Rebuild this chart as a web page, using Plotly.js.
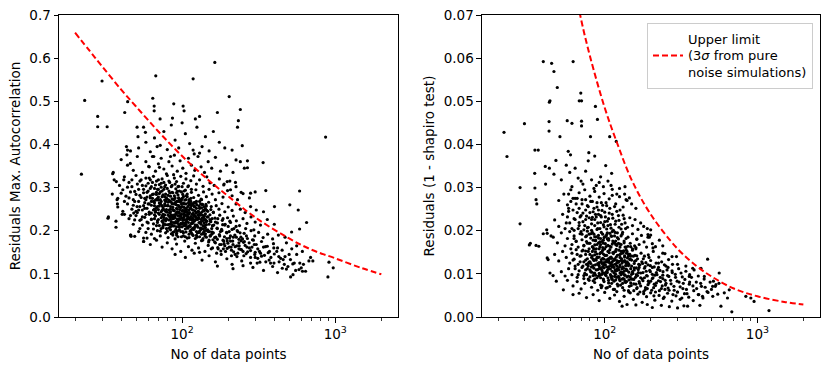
<!DOCTYPE html>
<html>
<head>
<meta charset="utf-8">
<script src="https://cdn.plot.ly/plotly-3.0.1.min.js"></script>
<style>
  html, body { margin: 0; padding: 0; background: #ffffff; }
  #graph { width: 830px; height: 371px; }
</style>
</head>
<body>
<div id="graph"></div>
<script>
// ---- Left panel: residuals max. autocorrelation vs no of data points ----
// [n, value] pairs
let leftOutliers = [
  [22,0.331],[23.1,0.502],[30,0.547],[28.1,0.465],[28.1,0.441],[32.4,0.441],[42.2,0.474],[44.1,0.499],
  [67.3,0.559],[64.3,0.507],[65.7,0.489],[65.7,0.478],[71.8,0.459],[86.5,0.461],[88.2,0.494],[101.5,0.489],
  [103,0.478],[118,0.552],[163.5,0.590],[170,0.474],[122,0.459],[130,0.465],[203,0.511],[240,0.481],
  [233,0.455],[230,0.44],[247,0.397],[212,0.387],[225,0.364],[267,0.362],[267,0.346],[338,0.358],
  [865,0.417],[352,0.293],[585,0.292],[401,0.256],[505,0.260],[573,0.248],[650,0.219],[585,0.204],
  [519,0.197],[910,0.127],[970,0.114],[896,0.093],[511,0.093],[714,0.130],[673,0.130],[528,0.123],
  [587,0.125],[611,0.106],[551,0.108],[491,0.117],[457,0.133],[428,0.140],[397,0.160],[451,0.113],
  [360,0.164],[325,0.148],[378,0.125],[309,0.125],[288,0.179],[294,0.202],[280,0.287],[243,0.289],
  [207,0.295],[197,0.314],[187,0.306],[223,0.312],
  [32.8,0.229],[37,0.208],[35.2,0.332],[35.5,0.335],[37.2,0.314],[37.6,0.272],[37.8,0.262],[40.6,0.238],
  [40,0.287],[41.6,0.318],[43.3,0.395],[43.6,0.376],[44,0.387],[45.9,0.356],[46.2,0.19],[46.4,0.187],
  [48.3,0.241],[49,0.225],[50.8,0.256],[51.5,0.418],[50.8,0.44],[57.6,0.428],[56.1,0.175],[59,0.183],
  [60.5,0.349],[65.3,0.372],[68.7,0.395],[71.1,0.347]
];
let leftUpper = [
  [46,0.385],[52,0.392],[58,0.405],[62,0.383],[66,0.415],[72,0.398],[76,0.43],[80,0.388],[85,0.445],
  [90,0.41],[95,0.392],[105,0.425],[112,0.402],[118,0.387],[125,0.44],[135,0.395],[142,0.418],[150,0.385],
  [160,0.43],[175,0.405],[190,0.392],[56,0.44],[84,0.372],[100,0.45],[130,0.38],
  [40,0.365],[44,0.352],[48,0.34],[51,0.372],[55,0.335],[58,0.36],[61,0.348],[64,0.372],[67,0.338],
  [70,0.355],[73,0.368],[76,0.343],[79,0.332],[82,0.36],[86,0.35],[89,0.375],[93,0.338],[97,0.362],
  [101,0.345],[106,0.333],[110,0.368],[115,0.352],[121,0.34],[127,0.372],[133,0.348],[140,0.335],
  [148,0.36],[156,0.345],[165,0.37],[178,0.338],[195,0.352],[215,0.335],[240,0.36],[255,0.345],[120,0.378],
  [36,0.318],[39,0.305],[42,0.325],[45,0.312],[47,0.302],[50,0.328],[53,0.315],[55,0.305],[58,0.322],
  [60,0.31],[63,0.302],[65,0.326],[68,0.315],[71,0.307],[74,0.32],[77,0.302],[80,0.328],[83,0.312],
  [86,0.305],[89,0.322],[92,0.314],[95,0.303],[98,0.326],[102,0.31],[106,0.32],[110,0.304],[114,0.316],
  [119,0.327],[124,0.308],[130,0.318],[137,0.303],[145,0.325],[152,0.311],[162,0.305],[175,0.32],
  [188,0.308],[205,0.315],[225,0.302],[62,0.318],[88,0.33],[73,0.31]
];
let leftCore = [
  [35,0.285],[38,0.275],[41,0.295],[43,0.28],[46,0.29],[48,0.272],[50,0.284],[52,0.296],[54,0.277],
  [56,0.288],[58,0.272],[60,0.292],[62,0.281],[64,0.275],[66,0.298],[68,0.284],[70,0.271],[72,0.29],
  [74,0.279],[76,0.296],[78,0.285],[80,0.273],[82,0.292],[84,0.28],[87,0.288],[89,0.274],[91,0.297],
  [94,0.283],[96,0.271],[99,0.29],[102,0.279],[105,0.294],[108,0.285],[111,0.272],[115,0.289],[119,0.277],
  [123,0.295],[128,0.282],[133,0.273],[138,0.29],[144,0.279],[150,0.296],[157,0.285],[165,0.272],
  [174,0.288],[185,0.278],[198,0.293],[212,0.281],[230,0.272],[250,0.286],[275,0.276],[300,0.29],
  [70,0.278],[95,0.276],
  [38,0.255],[41,0.245],[44,0.262],[47,0.25],[49,0.268],[51,0.242],[53,0.256],[55,0.248],[57,0.265],
  [59,0.252],[61,0.243],[63,0.259],[65,0.268],[67,0.247],[69,0.256],[71,0.264],[73,0.244],[75,0.253],
  [77,0.262],[79,0.249],[81,0.258],[83,0.241],[85,0.266],[87,0.254],[89,0.246],[91,0.261],[93,0.25],
  [95,0.243],[97,0.267],[99,0.255],[101,0.247],[103,0.262],[106,0.252],[108,0.244],[111,0.259],
  [114,0.268],[117,0.248],[120,0.256],[123,0.264],[127,0.243],[131,0.253],[135,0.261],[139,0.246],
  [144,0.257],[149,0.266],[154,0.249],[160,0.242],[167,0.258],[174,0.25],[182,0.263],[190,0.244],
  [200,0.255],[212,0.247],[225,0.262],[240,0.25],[258,0.242],[280,0.256],[305,0.248],[340,0.244],
  [78,0.27],[92,0.268],[118,0.24],[66,0.25],[84,0.25],
  [33,0.232],[37,0.222],[42,0.238],[45,0.228],[48,0.215],[50,0.235],[53,0.224],[55,0.213],[57,0.231],
  [59,0.22],[61,0.238],[63,0.227],[65,0.216],[67,0.234],[69,0.223],[71,0.212],[73,0.23],[75,0.219],
  [77,0.237],[79,0.226],[81,0.214],[83,0.233],[85,0.221],[87,0.211],[89,0.229],[91,0.239],[93,0.218],
  [95,0.227],[97,0.235],[99,0.215],[101,0.224],[103,0.232],[105,0.212],[107,0.221],[110,0.238],
  [113,0.228],[116,0.217],[119,0.234],[122,0.225],[125,0.213],[128,0.231],[132,0.22],[136,0.236],
  [140,0.226],[144,0.214],[148,0.232],[153,0.222],[158,0.211],[164,0.229],[170,0.218],[176,0.236],
  [183,0.224],[190,0.213],[198,0.23],[207,0.219],[216,0.234],[226,0.223],[237,0.212],[250,0.228],
  [265,0.217],[282,0.232],[300,0.22],[325,0.213],[360,0.226],[400,0.215],[76,0.215],[88,0.236],
  [104,0.218],[130,0.238],[96,0.211]
];
let leftDense = [
  [61,0.262],[63,0.241],[64,0.284],[66,0.228],[67,0.271],[68,0.253],[69,0.219],[70,0.296],[71,0.238],
  [72,0.262],[73,0.205],[74,0.247],[75,0.283],[76,0.231],[77,0.258],[78,0.214],[79,0.276],[80,0.243],
  [80,0.199],[81,0.266],[82,0.225],[83,0.288],[84,0.209],[84,0.256],[85,0.237],[86,0.274],[87,0.196],
  [87,0.248],[88,0.219],[89,0.281],[90,0.232],[90,0.265],[91,0.203],[92,0.252],[93,0.227],[93,0.291],
  [94,0.186],[95,0.258],[95,0.214],[96,0.241],[97,0.272],[98,0.198],[98,0.233],[99,0.262],[100,0.209],
  [100,0.245],[101,0.284],[102,0.188],[102,0.226],[103,0.254],[104,0.214],[104,0.271],[105,0.236],
  [106,0.197],[107,0.249],[107,0.222],[108,0.279],[109,0.206],[110,0.24],[110,0.264],[111,0.184],
  [112,0.228],[113,0.252],[113,0.199],[114,0.275],[115,0.217],[116,0.238],[117,0.191],[118,0.261],
  [119,0.225],[120,0.205],[121,0.246],[122,0.182],[123,0.231],[124,0.268],[125,0.212],[126,0.244],
  [127,0.196],[128,0.228],[129,0.257],[130,0.186],[131,0.219],[132,0.24],[133,0.203],[134,0.272],
  [135,0.229],[136,0.178],[137,0.211],[138,0.248],[139,0.193],[140,0.234],[142,0.207],[143,0.261],
  [144,0.185],[145,0.222],[147,0.245],[148,0.198],[149,0.174],[150,0.215],[152,0.237],[153,0.188],
  [155,0.256],[156,0.205],[157,0.228],[159,0.179],[160,0.243],
  [62,0.276],[65,0.248],[68,0.289],[72,0.272],[75,0.238],[78,0.268],[82,0.248],[85,0.218],[88,0.262],
  [91,0.221],[94,0.268],[97,0.226],[100,0.275],[103,0.238],[106,0.262],[109,0.232],[112,0.212],
  [115,0.258],[118,0.206],[121,0.266],[124,0.198],[127,0.237],[130,0.252],[133,0.226],[136,0.261],
  [139,0.218],[142,0.251],[146,0.232],[151,0.198],[154,0.221],[158,0.212],
  [86,0.232],[92,0.209],[96,0.228],[101,0.218],[105,0.248],[108,0.228],[111,0.248],[116,0.224],
  [120,0.236],[125,0.228],[99,0.238],[93,0.243],[89,0.198],[83,0.233],[79,0.228],[74,0.222],[70,0.249],
  [66,0.237],[63,0.226],[58,0.238],[56,0.258],[54,0.226],[52,0.248],[57,0.275],[59,0.289]
];
let leftDense2 = [
  [65,0.204],[66,0.265],[67,0.243],[68,0.212],[69,0.275],[70,0.226],[71,0.257],[72,0.199],[73,0.268],
  [74,0.234],[75,0.211],[76,0.249],[77,0.279],[78,0.223],[79,0.205],[80,0.258],[81,0.236],[82,0.271],
  [83,0.215],[84,0.244],[85,0.193],[86,0.262],[87,0.228],[88,0.247],[89,0.211],[90,0.276],[91,0.238],
  [92,0.194],[93,0.259],[94,0.222],[95,0.275],[96,0.202],[97,0.249],[98,0.217],[99,0.271],[100,0.229],
  [101,0.198],[102,0.264],[103,0.212],[104,0.243],[105,0.186],[106,0.272],[107,0.235],[108,0.208],
  [109,0.256],[110,0.219],[111,0.268],[112,0.242],[113,0.21],[114,0.233],[115,0.195],[116,0.263],
  [117,0.229],[118,0.248],[119,0.203],[120,0.222],[121,0.256],[122,0.213],[123,0.241],[124,0.189],
  [125,0.26],[126,0.226],[127,0.208],[128,0.245],[129,0.219],[130,0.199],[131,0.236],[132,0.262],
  [133,0.215],[134,0.192],[135,0.244],[136,0.223],[137,0.205],[138,0.231],[139,0.256],[140,0.212],
  [141,0.188],[142,0.239],[143,0.221],[144,0.201],[145,0.247],
  [70,0.241],[74,0.258],[78,0.245],[82,0.206],[86,0.213],[90,0.218],[94,0.235],[98,0.254],[102,0.238],
  [106,0.215],[110,0.229],[114,0.252],[118,0.218],[122,0.234],[126,0.195],[130,0.268],[134,0.253],
  [138,0.196],[142,0.226],[76,0.226],[84,0.227],[92,0.242],[100,0.256],[108,0.242],[116,0.204],
  [124,0.252],[132,0.206],[140,0.248],[88,0.234],[96,0.255],[104,0.226],[112,0.226],[120,0.265],
  [152,0.226],[156,0.192],[161,0.213],[166,0.185],[171,0.228],[176,0.168],[181,0.203],[186,0.158],
  [191,0.215],[197,0.176],[203,0.198],[209,0.162],[216,0.185],[222,0.145],[229,0.2],[236,0.165],
  [243,0.177],[250,0.152]
];
let leftExtra = [
  [42,0.268],[44,0.301],[45,0.276],[47,0.318],[48,0.259],[49,0.291],[51,0.308],[52,0.268],[53,0.282],
  [54,0.318],[56,0.296],[57,0.252],[58,0.304],[59,0.278],[60,0.262],[61,0.322],[62,0.298],[63,0.268],
  [64,0.312],[65,0.285],[66,0.258],[67,0.306],[68,0.272],[69,0.296],[70,0.318],[71,0.286],[72,0.263],
  [73,0.301],[74,0.292],[76,0.312],[77,0.271],[78,0.306],[80,0.298],[81,0.282],[82,0.315],[84,0.268],
  [85,0.302],[86,0.289],[88,0.272],[90,0.308],[92,0.288],[94,0.302],[96,0.292],[98,0.268],[100,0.302],
  [103,0.292],[106,0.281],[109,0.302],[112,0.262],[115,0.296],[50,0.245],[55,0.232],[60,0.218],
  [46,0.235],[53,0.205],[58,0.196]
];
let leftLower = [
  [46,0.19],[49,0.187],[52,0.198],[56,0.183],[60,0.205],[63,0.192],[66,0.182],[69,0.2],[72,0.188],
  [75,0.207],[78,0.195],[81,0.184],[84,0.202],[87,0.19],[90,0.181],[93,0.199],[96,0.208],[99,0.186],
  [102,0.195],[105,0.204],[108,0.183],[111,0.192],[114,0.201],[118,0.189],[121,0.209],[125,0.185],
  [129,0.196],[133,0.205],[137,0.182],[142,0.193],[147,0.202],[152,0.188],[157,0.197],[163,0.184],
  [169,0.206],[175,0.191],[182,0.2],[189,0.186],[196,0.195],[204,0.183],[212,0.203],[221,0.19],
  [231,0.198],[242,0.185],[254,0.194],[267,0.182],[282,0.2],[298,0.188],[316,0.196],[338,0.184],
  [362,0.192],[390,0.181],[425,0.19],[470,0.185],[110,0.21],[140,0.2],[170,0.18],[200,0.21],[92,0.19],
  [260,0.205],
  [56,0.175],[62,0.168],[68,0.178],[74,0.162],[80,0.172],[86,0.158],[92,0.169],[98,0.152],[104,0.176],
  [110,0.163],[116,0.155],[122,0.171],[128,0.16],[134,0.177],[141,0.152],[148,0.166],[155,0.158],
  [163,0.174],[171,0.161],[179,0.153],[188,0.17],[197,0.159],[207,0.176],[217,0.151],[228,0.165],
  [240,0.157],[252,0.173],[265,0.162],[280,0.154],[296,0.168],[312,0.158],[330,0.175],[350,0.163],
  [372,0.152],[395,0.17],[420,0.16],[450,0.155],[480,0.172],[520,0.158],[560,0.165],[610,0.152],
  [130,0.15],[185,0.178],[235,0.18],[300,0.15],
  [90,0.145],[105,0.138],[120,0.148],[135,0.132],[150,0.142],[165,0.128],[180,0.145],[196,0.135],
  [212,0.122],[228,0.14],[245,0.13],[262,0.147],[280,0.125],[300,0.138],[322,0.127],[345,0.143],
  [370,0.132],[400,0.146],[430,0.128],[470,0.14],[510,0.133],[560,0.145],[620,0.122],[690,0.138],
  [170,0.118],[215,0.112],[250,0.119],[290,0.115],[340,0.108],[390,0.117],[420,0.103],[480,0.111],
  [530,0.098],[600,0.114],[640,0.106],[580,0.11]
];
let leftTail = [
  [160,0.195],[165,0.172],[170,0.205],[172,0.158],[176,0.188],[180,0.168],[184,0.214],[187,0.176],
  [192,0.152],[195,0.196],[199,0.171],[203,0.162],[207,0.188],[210,0.142],[214,0.176],[218,0.205],
  [222,0.163],[226,0.185],[231,0.148],[235,0.172],[239,0.195],[244,0.156],[248,0.181],[253,0.142],
  [258,0.166],[263,0.188],[268,0.151],[274,0.172],[280,0.138],[286,0.162],[292,0.178],[298,0.145],
  [305,0.168],[312,0.136],[320,0.152],[330,0.141],[340,0.162],[352,0.128],[365,0.149],[380,0.138],
  [398,0.125],[415,0.152],[440,0.136],[465,0.122],[500,0.145],[540,0.125],[185,0.228],[205,0.222],
  [225,0.21],[165,0.22],[178,0.198],[196,0.182],[215,0.168],[235,0.158],[255,0.175],[275,0.16],
  [150,0.178],[158,0.16],[168,0.148],[190,0.165],[210,0.155]
];

// ---- Right panel: residuals (1 - shapiro test) vs no of data points ----
let rightOutliers = [
  [21.9,0.0428],[22.9,0.0372],[29.8,0.0448],[27.9,0.030],[27.9,0.0216],[32.1,0.0167],[32.6,0.0171],
  [34.9,0.0387],[36.7,0.0387],[34.8,0.0333],[34.9,0.0299],[35.5,0.0272],[35.9,0.0262],[39.6,0.0592],
  [44.9,0.0588],[46.5,0.0569],[48.9,0.0532],[43.4,0.0498],[43.8,0.0501],[43.2,0.0453],[43.2,0.0431],
  [50.9,0.0418],[40.8,0.0349],[43.4,0.0345],[41,0.0308],[46.5,0.0331],[47.9,0.0363],[62.1,0.0592],
  [69.7,0.0519],[68.1,0.0501],[70.5,0.0501],[56.8,0.0455],[61,0.0449],[70.5,0.0454],[70.5,0.0443],
  [86.9,0.0488],[89.6,0.0458],[80.7,0.0418],[107.8,0.0418],[119,0.0407],[57.7,0.0384],[59.7,0.0376],
  [78.7,0.0381],[86,0.0373],[101.5,0.0351],[111,0.0333],[135.8,0.0302],[138,0.0272],[41.7,0.0202],
  [42,0.0194],[44.5,0.0188],[42,0.0137],[42.6,0.0133],[43.8,0.0102],[45.9,0.0096],[48.2,0.0083],
  [53.6,0.0063],[62,0.0052],[39.6,0.0193],[35.5,0.0166],[37,0.0164],
  [472,0.0134],[562,0.0102],[577,0.0025],[680,0.0012],[1191,0.0015],[951,0.0036],[906,0.0044],
  [840,0.0048],[654,0.0063],[637,0.0044],[607,0.0056],[509,0.0071],[515,0.0083],[449,0.0094],
  [427,0.0113],[377,0.0113],[358,0.0094],[349,0.0025],[437,0.0048],[535,0.0075],[560,0.0078],
  [276,0.014],[240,0.0148],[207,0.016],[192,0.0191],[192,0.0185],[162.5,0.0181],[160,0.0161],
  [52,0.0318],[56,0.0352],[59,0.0335],[61,0.0302],[64,0.0345],[67,0.0322],[72,0.0308],[75,0.0338],
  [78,0.0362],[82,0.0318],[88,0.0305],[94,0.0325],[98,0.0302],[105,0.0315],[58,0.0285],[64,0.0275],
  [70,0.0315],[92,0.0312],[125,0.0298],[135,0.0285],[145,0.0276],[110,0.0305]
];
let rightUpper = [
  [50,0.027],[54,0.0285],[57,0.026],[60,0.0295],[62,0.0275],[65,0.0262],[68,0.0288],[71,0.0272],
  [74,0.0295],[77,0.0258],[80,0.028],[83,0.0268],[86,0.0291],[89,0.0255],[92,0.0278],[95,0.0265],
  [99,0.0286],[103,0.0258],[107,0.0274],[112,0.0282],[118,0.0262],[125,0.0279],[132,0.0255],[140,0.027],
  [150,0.0262],[160,0.0252],[58,0.0252],[85,0.0298],[112,0.0296],[120,0.0285],
  [47,0.0225],[50,0.021],[53,0.0238],[56,0.0218],[58,0.0245],[61,0.0205],[63,0.0228],[66,0.0242],
  [68,0.0212],[70,0.0235],[72,0.0221],[75,0.0248],[77,0.0207],[79,0.023],[82,0.0216],[84,0.0244],
  [86,0.0226],[89,0.0203],[91,0.0238],[94,0.0219],[96,0.0247],[99,0.0209],[101,0.0232],[104,0.0222],
  [107,0.0241],[110,0.0206],[113,0.0229],[117,0.0215],[120,0.0245],[124,0.0224],[128,0.0204],
  [132,0.0236],[136,0.0218],[141,0.0208],[146,0.023],[152,0.0212],[158,0.0226],[165,0.0203],
  [172,0.0218],[180,0.021],[190,0.0205],[200,0.0202],[88,0.0232],[105,0.0212],[73,0.0202]
];
let rightExtra = [
  [55,0.0205],[57,0.0232],[59,0.0218],[60,0.0268],[62,0.0248],[63,0.0182],[64,0.0226],[66,0.0275],
  [67,0.0205],[68,0.0252],[69,0.0232],[70,0.0198],[71,0.0262],[72,0.0241],[74,0.0212],[75,0.0272],
  [76,0.0234],[78,0.0256],[79,0.0192],[80,0.0242],[81,0.0268],[82,0.0201],[83,0.0231],[85,0.0252],
  [86,0.0186],[87,0.0238],[89,0.0265],[90,0.0218],[91,0.0248],[93,0.0205],[95,0.0232],[97,0.0259],
  [98,0.0214],[100,0.0243],[102,0.0265],[104,0.0195],[106,0.0228],[108,0.0252],[110,0.0188],
  [112,0.0238],[114,0.0201],[116,0.0256],[118,0.0222],[121,0.0195],[123,0.0235],[126,0.0248],
  [129,0.0215],[131,0.0196],[134,0.0228],[137,0.0205]
];
let rightCore = [
  [46,0.0185],[49,0.0172],[52,0.0195],[55,0.0165],[57,0.0182],[59,0.0198],[61,0.0168],[63,0.0188],
  [65,0.0175],[67,0.0162],[69,0.0193],[71,0.0179],[73,0.0166],[75,0.0186],[77,0.0199],[79,0.0171],
  [81,0.0183],[83,0.0163],[85,0.0192],[87,0.0177],[89,0.0168],[91,0.0189],[93,0.0174],[95,0.0196],
  [97,0.0161],[99,0.0184],[101,0.017],[103,0.0191],[106,0.0178],[108,0.0164],[111,0.0187],[114,0.0173],
  [117,0.0196],[120,0.0166],[123,0.0181],[126,0.0169],[130,0.0192],[134,0.0176],[138,0.0162],
  [142,0.0185],[147,0.0171],[152,0.0193],[157,0.0165],[162,0.018],[168,0.0168],[174,0.0189],
  [181,0.0174],[188,0.0162],[196,0.0185],[205,0.017],[215,0.0163],[228,0.0178],[200,0.019],
  [240,0.0165],[76,0.0175],[98,0.0178],[118,0.0176],[84,0.0161],
  [47,0.0145],[50,0.013],[53,0.0152],[56,0.0138],[59,0.0125],[61,0.0148],[63,0.0134],[65,0.0156],
  [67,0.0122],[69,0.0141],[71,0.0153],[73,0.0128],[75,0.0145],[77,0.0135],[79,0.0158],[81,0.0124],
  [83,0.0142],[85,0.0131],[87,0.0151],[89,0.0138],[91,0.0121],[93,0.0147],[95,0.0133],[97,0.0155],
  [99,0.0126],[101,0.0143],[103,0.0132],[105,0.0152],[108,0.0137],[110,0.0123],[113,0.0149],
  [116,0.0135],[119,0.0157],[122,0.0127],[125,0.0144],[128,0.0131],[132,0.0153],[135,0.0139],
  [139,0.0124],[143,0.0146],[147,0.0134],[152,0.0155],[157,0.0129],[162,0.0142],[167,0.0122],
  [173,0.0148],[179,0.0135],[186,0.0126],[193,0.0144],[200,0.0131],[208,0.0152],[217,0.0125],
  [226,0.0139],[236,0.0128],[248,0.0147],[262,0.0133],[278,0.0122],[295,0.014],[92,0.0158],
  [112,0.0128],[140,0.0152],[182,0.0141]
];
let rightDense = [
  [70,0.0142],[72,0.0118],[73,0.0165],[74,0.0101],[75,0.0132],[76,0.0188],[77,0.0112],[78,0.0152],
  [79,0.0127],[80,0.0171],[81,0.0105],[82,0.0138],[83,0.0196],[84,0.0119],[85,0.0157],[86,0.0088],
  [87,0.0133],[87,0.0178],[88,0.0109],[89,0.0146],[90,0.0124],[90,0.0205],[91,0.0095],[92,0.0139],
  [93,0.0163],[93,0.0114],[94,0.0182],[95,0.0128],[96,0.0099],[96,0.0151],[97,0.0117],[98,0.0171],
  [99,0.0134],[99,0.0082],[100,0.0158],[101,0.0121],[102,0.0187],[102,0.0104],[103,0.0143],[104,0.0128],
  [105,0.0166],[105,0.0091],[106,0.0112],[107,0.0149],[108,0.0194],[108,0.0125],[109,0.0098],[110,0.0162],
  [111,0.0136],[111,0.0078],[112,0.0116],[113,0.0176],[114,0.0131],[115,0.0102],[116,0.0151],[117,0.0122],
  [118,0.0086],[118,0.0168],[119,0.0139],[120,0.0108],[121,0.0184],[122,0.0127],[123,0.0094],[124,0.0155],
  [125,0.0116],[126,0.0138],[127,0.0074],[128,0.0168],[129,0.0104],[130,0.0125],[131,0.0148],[132,0.0089],
  [133,0.0113],[134,0.0172],[135,0.0131],[136,0.0097],[137,0.0119],[138,0.0156],[139,0.0082],[140,0.0108],
  [141,0.0137],[142,0.0164],[143,0.0095],[144,0.0122],[145,0.0071],[146,0.0145],[148,0.0112],[149,0.0088],
  [150,0.0132],[152,0.0158],[153,0.0101],[155,0.0077],[156,0.0124],[158,0.0143],[159,0.0092],[161,0.0114],
  [163,0.0068],[164,0.0135],[166,0.0103],[168,0.0082],[170,0.0121],
  [60,0.0158],[62,0.0132],[63,0.0201],[64,0.0112],[65,0.0176],[66,0.0145],[67,0.0098],[68,0.0219],
  [69,0.0128],[71,0.0192],[72,0.0155],[73,0.0089],[75,0.0226],[76,0.0122],[78,0.0208],[80,0.0128],
  [82,0.0226],[84,0.0096],[86,0.0212],[88,0.0186],[91,0.0172],[94,0.0235],[97,0.0192],[100,0.0221],
  [103,0.0204],[106,0.0182],[109,0.0214],[112,0.0198],[116,0.0188],[120,0.0168],[124,0.0208],[128,0.0188],
  [133,0.0152],[138,0.0182],[143,0.0141],[148,0.0163],[154,0.0141],[160,0.0158],[84,0.0084],[96,0.0072],
  [104,0.0068],[114,0.0064],[122,0.0072],[134,0.0062],[147,0.0056],[92,0.0112],[98,0.0146],[106,0.0131],
  [116,0.0094],[126,0.0102]
];
let rightDense2 = [
  [75,0.0153],[76,0.0098],[77,0.0171],[78,0.0124],[79,0.0085],[80,0.0145],[81,0.0193],[82,0.0116],
  [83,0.0152],[84,0.0134],[85,0.0102],[86,0.0167],[87,0.0121],[88,0.0158],[89,0.0091],[90,0.0138],
  [91,0.0183],[92,0.0126],[93,0.0097],[94,0.0149],[95,0.0112],[96,0.0175],[97,0.0136],[98,0.0088],
  [99,0.0121],[100,0.0143],[101,0.0098],[102,0.0163],[103,0.0116],[104,0.0181],[105,0.0134],[106,0.0085],
  [107,0.0127],[108,0.0156],[109,0.0111],[110,0.0139],[111,0.0094],[112,0.0169],[113,0.0121],[114,0.0147],
  [115,0.0083],[116,0.0132],[117,0.0109],[118,0.0152],[119,0.0124],[120,0.0092],[121,0.0143],[122,0.0112],
  [123,0.0171],[124,0.0129],[125,0.0087],[126,0.0121],[127,0.0146],[128,0.0098],[129,0.0135],[130,0.0112],
  [131,0.0078],[132,0.0129],[133,0.0153],[134,0.0106],[135,0.0142],[136,0.0083],[137,0.0127],[138,0.0111],
  [139,0.0148],[140,0.0093],[142,0.0125],[144,0.0104],[146,0.0133],[148,0.0079],[150,0.0118],
  [80,0.0109],[84,0.0178],[88,0.0132],[92,0.0101],[96,0.0124],[100,0.0186],[104,0.0103],[108,0.0136],
  [112,0.0087],[116,0.0172],[120,0.0131],[124,0.0109],[128,0.0152],[132,0.0101],[136,0.0162],[140,0.0128],
  [144,0.0086],[148,0.0141],[86,0.0144],[94,0.0168],[102,0.0128],[110,0.0119],[118,0.0106],[126,0.0162],
  [134,0.0088],
  [152,0.0088],[156,0.0109],[160,0.0131],[164,0.0096],[168,0.0115],[172,0.0072],[177,0.0124],[182,0.0091],
  [187,0.0106],[193,0.0083],[199,0.0119],[205,0.0099],[211,0.0076],[218,0.0103],[225,0.0115],[232,0.0082],
  [240,0.0097],[248,0.0064],[256,0.0109],[155,0.0061],[170,0.0058],[190,0.0066],[215,0.0058]
];
let rightLower = [
  [52,0.0105],[55,0.0095],[58,0.0112],[61,0.0098],[64,0.0118],[66,0.0092],[68,0.0107],[71,0.0115],
  [73,0.0096],[75,0.0109],[78,0.0118],[80,0.0093],[82,0.0104],[85,0.0113],[87,0.0097],[90,0.011],
  [92,0.0119],[94,0.0091],[97,0.0103],[99,0.0114],[102,0.0096],[104,0.0108],[107,0.0117],[110,0.0094],
  [112,0.0106],[115,0.0115],[118,0.0099],[121,0.0111],[124,0.0092],[128,0.0104],[131,0.0116],
  [135,0.0097],[139,0.0109],[143,0.0119],[147,0.0093],[152,0.0105],[156,0.0114],[161,0.0098],
  [166,0.011],[172,0.0091],[178,0.0103],[184,0.0117],[190,0.0095],[197,0.0108],[205,0.0115],
  [213,0.0097],[222,0.011],[231,0.0092],[241,0.0105],[252,0.0118],[263,0.0094],[276,0.0107],
  [290,0.0099],[305,0.0112],[322,0.0093],[340,0.0106],[360,0.0098],[385,0.0109],[410,0.0095],
  [100,0.0101],[120,0.0118],[150,0.0099],[96,0.0108],[86,0.0101],
  [57,0.0085],[62,0.0072],[66,0.0082],[70,0.0065],[74,0.0078],[78,0.0088],[82,0.0069],[86,0.008],
  [90,0.0062],[94,0.0074],[98,0.0086],[102,0.0067],[106,0.0079],[111,0.0089],[116,0.0064],[121,0.0076],
  [126,0.0084],[131,0.0068],[137,0.008],[143,0.0061],[149,0.0073],[155,0.0087],[162,0.0066],
  [169,0.0078],[176,0.0088],[184,0.0063],[192,0.0075],[200,0.0083],[209,0.0068],[218,0.0079],
  [228,0.0061],[238,0.0072],[249,0.0085],[260,0.0067],[272,0.0077],[285,0.0062],[298,0.0083],
  [312,0.007],[327,0.0078],[343,0.0064],[360,0.0081],[378,0.0072],[400,0.0066],[425,0.0078],
  [455,0.0069],[490,0.0081],[108,0.0071],[130,0.0088],[160,0.0076],[205,0.0089],[250,0.0074],[95,0.0068],
  [68,0.0055],[76,0.0045],[84,0.0052],[92,0.0038],[100,0.0057],[108,0.0043],[116,0.0051],[125,0.0036],
  [134,0.0048],[144,0.0058],[154,0.0041],[165,0.0053],[176,0.0034],[188,0.0047],[200,0.0056],
  [213,0.0039],[227,0.005],[242,0.0043],[258,0.0055],[275,0.0037],[293,0.0049],[312,0.0041],
  [333,0.0054],[355,0.0046],[380,0.0038],[410,0.0052],[440,0.0044],[475,0.0057],[510,0.0048],
  [550,0.0053],[300,0.0058],[120,0.0059],[180,0.0059],
  [130,0.0025],[160,0.0028],[205,0.0022],[235,0.0027],[265,0.0024],[300,0.0021],[140,0.0029],
  [330,0.0026],[420,0.0027],[190,0.0029]
];
let rightTail = [
  [172,0.0102],[175,0.0128],[178,0.0084],[182,0.0113],[185,0.0068],[188,0.0096],[192,0.0121],[195,0.0079],
  [199,0.0105],[203,0.0062],[207,0.0091],[211,0.0116],[215,0.0073],[220,0.0098],[225,0.0084],[230,0.0108],
  [235,0.0066],[240,0.0089],[246,0.0121],[252,0.0078],[258,0.0096],[264,0.0062],[270,0.0085],[277,0.0103],
  [284,0.0071],[291,0.0092],[299,0.0058],[307,0.0081],[316,0.0102],[325,0.0066],[335,0.0087],[346,0.0054],
  [358,0.0076],[370,0.0092],[383,0.0061],[398,0.0081],[413,0.0052],[430,0.0071],[448,0.0088],[468,0.0059],
  [500,0.0064],[530,0.0071],[180,0.0054],[210,0.0049],[245,0.0046],[280,0.0052],[320,0.0044],[195,0.0138],
  [225,0.0125],[260,0.0115],[300,0.0122],[340,0.0118]
];

// Upper limit curves (3 sigma from pure noise simulations)
let leftLimitN = [20, 25, 30, 40, 50, 70, 100, 150, 200, 300, 500, 700, 1000, 1500, 2000];
let leftLimitV = [0.659, 0.616, 0.581, 0.527, 0.488, 0.430, 0.373, 0.316, 0.280, 0.231, 0.182, 0.156, 0.136, 0.113, 0.099];
let rightLimitN = [60, 70, 80, 100, 120, 150, 200, 300, 400, 500, 700, 1000, 1500, 2000];
let rightLimitV = [0.081, 0.069, 0.0605, 0.0485, 0.0405, 0.0318, 0.0238, 0.0158, 0.0118, 0.0094, 0.0066, 0.0048, 0.0035, 0.0029];

let xTickVals = [100, 1000];
let xTickText = ['10<sup>2</sup>', '10<sup>3</sup>'];
let xMinorVals = [20, 30, 40, 50, 60, 70, 80, 90, 200, 300, 400, 500, 600, 700, 800, 900, 2000];

let leftPts = leftOutliers.concat(leftUpper, leftCore, leftDense, leftDense2, leftExtra, leftLower, leftTail);
let rightPts = rightOutliers.concat(rightUpper, rightExtra, rightCore, rightDense, rightDense2, rightLower, rightTail);

const FONT = 'DejaVu Sans, sans-serif';

let dotStyle = {color: 'black', size: 3.2};
let limitLine = {color: '#ff0000', width: 2, dash: '6px,3px'};

let data = [
    { // left scatter
        x: leftPts.map(p => p[0]),
        y: leftPts.map(p => p[1]),
        mode: 'markers',
        marker: dotStyle,
        showlegend: false,
        hoverinfo: 'skip'
    },
    { // left limit
        x: leftLimitN,
        y: leftLimitV,
        mode: 'lines',
        line: Object.assign({shape: 'spline'}, limitLine),
        showlegend: false
    },
    { // right scatter
        x: rightPts.map(p => p[0]),
        y: rightPts.map(p => p[1]),
        xaxis: 'x2',
        yaxis: 'y2',
        mode: 'markers',
        marker: dotStyle,
        showlegend: false,
        hoverinfo: 'skip'
    },
    { // right limit
        x: rightLimitN,
        y: rightLimitV,
        xaxis: 'x2',
        yaxis: 'y2',
        mode: 'lines',
        name: 'Upper limit<br>(3<i>σ</i> from pure<br>noise simulations)',
        line: Object.assign({shape: 'spline'}, limitLine),
        showlegend: true
    }
];

function xAxis(domain, anchor) {
    return {
        domain: domain,
        anchor: anchor,
        type: 'log',
        range: [1.196, 3.41],
        tickmode: 'array',
        tickvals: xTickVals,
        ticktext: xTickText,
        ticks: 'outside',
        ticklen: 4.5,
        tickwidth: 1,
        tickcolor: '#000',
        minor: {tickmode: 'array', tickvals: xMinorVals, ticks: 'outside', ticklen: 2.5, tickwidth: 0.8, tickcolor: '#000', showgrid: false},
        tickfont: {family: FONT, size: 13.5, color: '#000'},
        showline: true,
        mirror: true,
        linecolor: '#000',
        linewidth: 1,
        showgrid: false,
        zeroline: false,
        title: {text: 'No of data points', font: {family: FONT, size: 13.5, color: '#000'}, standoff: 8}
    };
}

function yAxis(anchor, range, dtick, fmt, title) {
    return {
        domain: [0, 1],
        anchor: anchor,
        range: range,
        dtick: dtick,
        tick0: 0,
        tickformat: fmt,
        ticks: 'outside',
        ticklen: 4.5,
        tickwidth: 1,
        tickcolor: '#000',
        tickfont: {family: FONT, size: 13.5, color: '#000'},
        showline: true,
        mirror: true,
        linecolor: '#000',
        linewidth: 1,
        showgrid: false,
        zeroline: false,
        title: {text: title, font: {family: FONT, size: 13.5, color: '#000'}, standoff: 5}
    };
}

let layout = {
    width: 830,
    height: 371,
    margin: {l: 59, r: 10, t: 15, b: 54},
    paper_bgcolor: '#fff',
    plot_bgcolor: '#fff',
    font: {family: FONT, color: '#000'},
    xaxis: xAxis([0, 0.4455], 'y'),
    yaxis: yAxis('x', [0, 0.7], 0.1, '.1f', 'Residuals Max. Autocorrelation'),
    xaxis2: xAxis([0.5558, 1], 'y2'),
    yaxis2: yAxis('x2', [0, 0.07], 0.01, '.2f', 'Residuals (1 - shapiro test)'),
    showlegend: true,
    legend: {
        x: 0.9908, y: 0.975, xanchor: 'right', yanchor: 'top',
        bgcolor: 'rgba(255,255,255,0.8)',
        bordercolor: '#cccccc',
        borderwidth: 1,
        font: {family: FONT, size: 13, color: '#000'},
        itemwidth: 30
    }
};

Plotly.newPlot('graph', data, layout, {staticPlot: true});
</script>
</body>
</html>
